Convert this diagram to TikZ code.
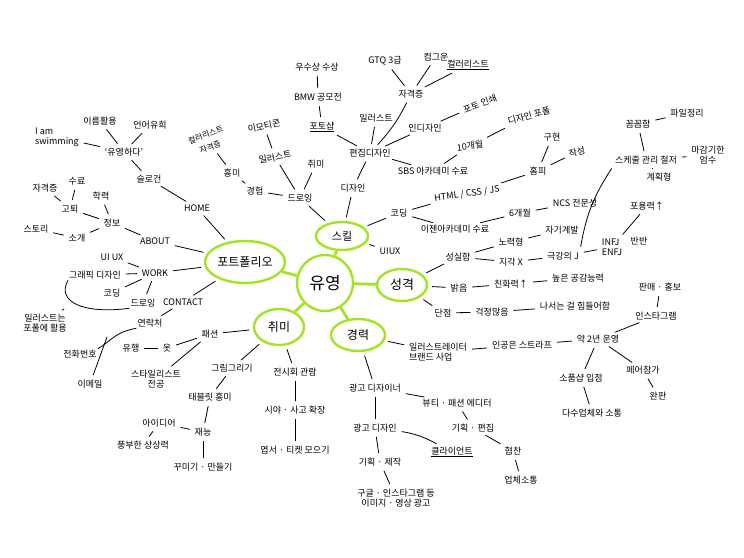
\documentclass[tikz,border=0pt]{standalone}
\usepackage{fontspec}
\setmainfont{Noto Sans CJK KR}
\usepackage{tikz}
\usepackage{xcolor}
\usetikzlibrary{shapes.geometric}
\definecolor{leaf}{RGB}{160,228,36}

\begin{document}
\begin{tikzpicture}[x=1pt,y=-1pt]
        \tikzstyle{every node}=[font=\fontsize{9}{10}\selectfont, inner sep=1pt, align=center]
        \tikzstyle{big}=[draw=leaf, line width=2.4pt, ellipse, inner sep=0pt]
        \tikzstyle{ln}=[line width=0.8pt, line cap=round, shorten >=4pt, shorten <=4pt]
        \tikzstyle{gln}=[draw=leaf, line width=2.8pt]
        \useasboundingbox (0,0) rectangle (744,557);

            \node[big, circle, minimum size=56pt, font=\fontsize{17}{18}\selectfont] (C) at (325,283) {유영};
            \node[big, minimum width=80pt, minimum height=42pt, font=\fontsize{12}{13}\selectfont] (P) at (245,262) {포트폴리오};
            \node[big, minimum width=52pt, minimum height=28pt, font=\fontsize{11}{12}\selectfont] (SK) at (342,236) {스킬};
            \node[big, minimum width=50pt, minimum height=32pt, font=\fontsize{13}{14}\selectfont] (SG) at (402,285) {성격};
            \node[big, minimum width=54pt, minimum height=32pt, font=\fontsize{12}{13}\selectfont] (GR) at (358,335) {경력};
            \node[big, minimum width=50pt, minimum height=36pt, font=\fontsize{12}{13}\selectfont] (CH) at (279,327) {취미};

            \node (H1) at (197,208) {HOME};
            \node (H2) at (149,179) {슬로건};
            \node (H3) at (124,152) {‘유영하다’};
            \node (H4) at (100,121) {이름활용};
            \node (H5) at (150,125) {언어유희};
            \node[align=left] (H6) at (57,137) {I am\\swimming};
            \node (A1) at (155,241) {ABOUT};
            \node (A2) at (112,223) {정보};
            \node (A3) at (101,196) {학력};
            \node (A4) at (70,209) {고퇴};
            \node (A5) at (45,188) {자격증};
            \node (A6) at (77,181) {수료};
            \node (A7) at (77,238) {소개};
            \node (A8) at (36,229) {스토리};
            \node (W1) at (155,273) {WORK};
            \node (W2) at (112,257) {UI UX};
            \node (W3) at (95,275) {그래픽 디자인};
            \node (W4) at (112,293) {코딩};
            \node (W5) at (143,303) {드로잉};
            \node (W6) at (45,323) {일러스트는\\포폴에 활용};
            \node (T1) at (183,302) {CONTACT};
            \node (T2) at (150,323) {연락처};
            \node (T3) at (80,354) {전화번호};
            \node (T4) at (90,384) {이메일};
            \coordinate (wb) at (64,309);
            \coordinate (tb) at (107,337);

            \node (D1) at (300,198) {드로잉};
            \node (D2) at (255,191) {경험};
            \node (D3) at (232,173) {흥미};
            \node[rotate=20, font=\fontsize{8}{13}\selectfont] (D4) at (208,141) {컬러리스트\\자격증};
            \node[rotate=12] (D5) at (275,157) {일러스트};
            \node[rotate=12] (D6) at (264,126) {이모티콘};
            \node (D7) at (316,164) {취미};
            \node (E1) at (353,188) {디자인};
            \node (E2) at (370,153) {편집디자인};
            \node (E3) at (322,127) {\underline{포토샵}};
            \node (E4) at (318,97) {BMW 공모전};
            \node (E5) at (317,67) {우수상 수상};
            \node (E6) at (376,118) {일러스트};
            \node (E7) at (411,94) {자격증};
            \node (E8) at (385,61) {GTQ 3급};
            \node (E9) at (436,57) {컴그운};
            \node (E10) at (468,65) {\underline{컬러리스트}};
            \node (E11) at (425,128) {인디자인};
            \node[rotate=20] (E12) at (480,104) {포토 인쇄};
            \node (E13) at (433,171) {SBS 아카데미 수료};
            \node[rotate=8] (E14) at (470,146) {10개월};
            \node[rotate=15] (E15) at (529,116) {디자인 포폴};
            \node (E16) at (538,171) {홈피};
            \node (E17) at (552,137) {구현};
            \node[rotate=15] (E18) at (577,152) {작성};
            \node (K1) at (399,213) {코딩};
            \node[rotate=8] (K2) at (467,194) {HTML / CSS / JS};
            \node (K3) at (455,229) {이젠아카데미 수료};
            \node (K4) at (520,213) {6개월};
            \node (K5) at (575,203) {NCS 전문성};
            \node (U1) at (390,251) {UIUX};

            \node (S1) at (458,257) {성실함};
            \node (S2) at (511,242) {노력형};
            \node (S3) at (562,230) {자기계발};
            \node (S4) at (511,262) {지각 X};
            \node (S5) at (563,256) {극강의 J};
            \node[align=left] (S6) at (612,247) {INFJ\\ENFJ};
            \node (S7) at (639,241) {반반};
            \node (S8) at (647,206) {포용력↑};
            \node (S9) at (646,160) {스케줄 관리 철저};
            \node (S10) at (638,124) {꼼꼼함};
            \node (S11) at (687,113) {파일정리};
            \node (S12) at (708,155) {마감기한\\엄수};
            \node (S13) at (659,177) {계획형};
            \node (B1) at (459,288) {밝음};
            \node (B2) at (511,284) {친화력↑};
            \node (B3) at (578,278) {높은 공감능력};
            \node (N1) at (443,313) {단점};
            \node (N2) at (492,312) {걱정많음};
            \node (N3) at (575,306) {나서는 걸 힘들어함};

            \node[align=left] (G1) at (438,352) {일러스트레이터\\브랜드 사업};
            \node (G2) at (522,345) {인공은 스트라프};
            \node (G3) at (598,339) {약 2년 운영};
            \node (G4) at (656,316) {인스타그램};
            \node (G5) at (660,287) {판매 · 홍보};
            \node (G6) at (581,378) {소품샵 입점};
            \node (G7) at (592,413) {다수업체와 소통};
            \node (G8) at (643,370) {페어참가};
            \node (G9) at (658,396) {완판};
            \node (G10) at (375,388) {광고 디자이너};
            \node (G11) at (457,403) {뷰티 · 패션 에디터};
            \node (G12) at (473,428) {기획 · 편집};
            \node (G13) at (513,451) {협찬};
            \node (G14) at (521,480) {업체소통};
            \node (G15) at (375,428) {광고 디자인};
            \node (G16) at (452,452) {\underline{클라이언트}};
            \node (G17) at (380,462) {기획 · 제작};
            \node (G18) at (396,498) {구글 · 인스타그램 등\\이미지 · 영상 광고};

            \node (F1) at (210,334) {패션};
            \node (F2) at (167,348) {옷};
            \node (F3) at (131,348) {유행};
            \node (F4) at (156,379) {스타일리스트\\전공};
            \node (F5) at (232,368) {그림그리기};
            \node (F6) at (210,397) {태블릿 흥미};
            \node (F7) at (203,432) {재능};
            \node (F8) at (159,423) {아이디어};
            \node (F9) at (143,445) {풍부한 상상력};
            \node (F10) at (203,467) {꾸미기 · 만들기};
            \node (F11) at (295,372) {전시회 관람};
            \node (F12) at (295,410) {시야 · 사고 확장};
            \node (F13) at (295,450) {엽서 · 티켓 모으기};

            \draw[gln] (C) -- (P);
            \draw[gln] (C) -- (SK);
            \draw[gln] (C) -- (SG);
            \draw[gln] (C) -- (GR);
            \draw[gln] (C) -- (CH);

            \draw[ln] (P) -- (H1);
            \draw[ln] (H1) -- (H2);
            \draw[ln] (H2) -- (H3);
            \draw[ln] (H3) -- (H4);
            \draw[ln] (H3) -- (H5);
            \draw[ln] (H3) -- (H6);
            \draw[ln] (P) -- (A1);
            \draw[ln] (A1) -- (A2);
            \draw[ln] (A2) -- (A3);
            \draw[ln] (A2) -- (A4);
            \draw[ln] (A4) -- (A5);
            \draw[ln] (A4) -- (A6);
            \draw[ln] (A2) -- (A7);
            \draw[ln] (A7) -- (A8);
            \draw[ln] (P) -- (W1);
            \draw[ln] (W1) -- (W2);
            \draw[ln] (W1) -- (W3);
            \draw[ln] (W1) -- (W4);
            \draw[ln] (W1) -- (W5);
            \draw[line width=0.8pt] (W3.south west) .. controls +(-12,22) and +(-45,6) .. (W5.south west);
            \draw[ln, shorten >=0pt] (W6) -- (wb);
            \draw[ln] (P) -- (T1);
            \draw[ln] (T1) -- (T2);
            \draw[line width=0.8pt] (T2.south west) .. controls +(-22,4) and +(14,-8) .. (T3.north east);
            \draw[ln, shorten <=0pt] (tb) -- (T4);

            \draw[ln] (SK) -- (D1);
            \draw[ln] (D1) -- (D2);
            \draw[ln] (D2) -- (D3);
            \draw[ln] (D3) -- (D4);
            \draw[ln] (D1) -- (D5);
            \draw[ln] (D5) -- (D6);
            \draw[ln] (D1) -- (D7);
            \draw[ln] (SK) -- (E1);
            \draw[ln] (E1) -- (E2);
            \draw[ln] (E2) -- (E3);
            \draw[ln] (E3) -- (E4);
            \draw[ln] (E4) -- (E5);
            \draw[ln] (E2) -- (E6);
            \draw[ln] (E2) to[bend right=8] (E7);
            \draw[ln] (E7) -- (E8);
            \draw[ln] (E7) -- (E9);
            \draw[ln] (E7) -- (E10);
            \draw[ln] (E2) -- (E11);
            \draw[ln] (E11) -- (E12);
            \draw[ln] (E2) -- (E13);
            \draw[ln] (E13) -- (E14);
            \draw[ln] (E14) -- (E15);
            \draw[ln] (SK) -- (K1);
            \draw[ln] (K1) -- (K2);
            \draw[ln] (K2) -- (E16);
            \draw[ln] (E16) -- (E17);
            \draw[ln] (E16) -- (E18);
            \draw[ln] (K1) -- (K3);
            \draw[ln] (K3) -- (K4);
            \draw[ln] (K4) -- (K5);
            \draw[ln] (SK) -- (U1);

            \draw[ln] (SG) -- (S1);
            \draw[ln] (S1) -- (S2);
            \draw[ln] (S2) -- (S3);
            \draw[ln] (S1) -- (S4);
            \draw[ln] (S4) -- (S5);
            \draw[ln] (S5) -- (S6);
            \draw[ln] (S6) -- (S8);
            \draw[ln] (S5.north east) to[bend left=12] (S9.south west);
            \draw[ln] (S9) -- (S10);
            \draw[ln] (S10) -- (S11);
            \draw[ln] (S9) -- (S12);
            \draw[ln] (S9) -- (S13);
            \draw[ln] (SG) -- (B1);
            \draw[ln] (B1) -- (B2);
            \draw[ln] (B2) -- (B3);
            \draw[ln] (SG) -- (N1);
            \draw[ln] (N1) -- (N2);
            \draw[ln] (N2) -- (N3);

            \draw[ln] (GR) -- (G1);
            \draw[ln] (G1) -- (G2);
            \draw[ln] (G2) -- (G3);
            \draw[ln] (G3) -- (G4);
            \draw[ln] (G4) -- (G5);
            \draw[ln] (G3) -- (G6);
            \draw[ln] (G6) -- (G7);
            \draw[ln] (G3) -- (G8);
            \draw[ln] (G8) -- (G9);
            \draw[ln] (GR) -- (G10);
            \draw[ln] (G10) -- (G11);
            \draw[ln] (G11) -- (G12);
            \draw[ln] (G12) -- (G13);
            \draw[ln] (G13) -- (G14);
            \draw[ln] (G10) -- (G15);
            \draw[ln] (G15) to[bend left=10] (G16);
            \draw[ln] (G15) -- (G17);
            \draw[ln] (G17) -- (G18);

            \draw[ln] (CH) -- (F1);
            \draw[ln] (F1) -- (F2);
            \draw[ln] (F2) -- (F3);
            \draw[ln] (F1) -- (F4);
            \draw[ln] (CH) -- (F5);
            \draw[ln] (F5) -- (F6);
            \draw[ln] (F6) -- (F7);
            \draw[ln] (F7) -- (F8);
            \draw[ln] (F8) -- (F9);
            \draw[ln] (F7) -- (F10);
            \draw[ln] (CH) -- (F11);
            \draw[ln] (F11) -- (F12);
            \draw[ln] (F12) -- (F13);
\end{tikzpicture}
\end{document}
